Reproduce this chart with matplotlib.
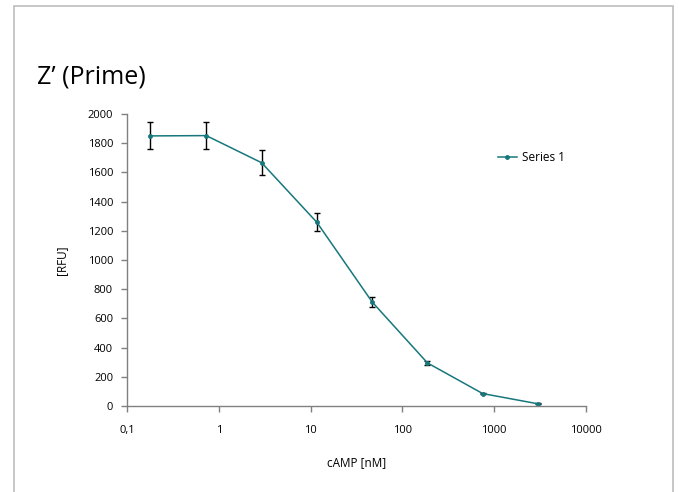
import matplotlib
matplotlib.use("Agg")
import matplotlib.pyplot as plt
from matplotlib.patches import Rectangle

# cAMP standard curve (Z' prime)
conc = [0.18, 0.73, 2.93, 11.7, 46.9, 187.5, 750, 3000]
rfu = [1850, 1852, 1666, 1258, 712, 295, 85, 15]
rfu_err = [93, 93, 85, 62, 36, 14, 5, 3]
x_ticks = [0.1, 1, 10, 100, 1000, 10000]
x_tick_labels = ["0,1", "1", "10", "100", "1000", "10000"]
y_ticks = list(range(0, 2001, 200))

LINE_COLOR = "#17777c"
AXIS_COLOR = "#808080"

plt.rcParams["font.family"] = ["Open Sans", "DejaVu Sans"]

fig = plt.figure(figsize=(6.79, 4.92), dpi=100)
fig.add_artist(Rectangle((14 / 679, -0.1), (673 - 14) / 679, 1.1 - 6 / 492,
                         transform=fig.transFigure, fill=False,
                         edgecolor="#bdbdbd", linewidth=1.2))

ax = fig.add_axes([127 / 679, 1 - 406 / 492, (586 - 127) / 679, (406 - 114) / 492])
ax.errorbar(conc, rfu, yerr=rfu_err, fmt="none", ecolor="black",
            elinewidth=1.0, capsize=2.5, capthick=1.0)
ax.plot(conc, rfu, color=LINE_COLOR, linewidth=1.1, marker="o",
        markersize=2.5, label="Series 1")

ax.set_xscale("log")
ax.set_xlim(0.1, 10000)
ax.set_ylim(0, 2000)
ax.set_xticks(x_ticks)
ax.set_xticklabels(x_tick_labels)
ax.minorticks_off()
ax.set_yticks(y_ticks)

for side in ("top", "right"):
    ax.spines[side].set_visible(False)
for side in ("left", "bottom"):
    ax.spines[side].set_color(AXIS_COLOR)
    ax.spines[side].set_linewidth(1.0)
ax.tick_params(axis="both", direction="out", length=4, width=1.0,
               color=AXIS_COLOR, labelsize=8, pad=6)
ax.tick_params(axis="x", pad=10)

ax.set_xlabel("cAMP [nM]", fontsize=8.5, labelpad=14)
ax.set_ylabel("[RFU]", fontsize=8.5, labelpad=14)

ax.legend(loc="upper left", bbox_to_anchor=(0.785, 0.91), frameon=False,
          fontsize=8.5, handlelength=1.6, handletextpad=0.4)

fig.text(37 / 679, 1 - 77 / 492, "Z\u2019 (Prime)", fontsize=18,
         va="center", ha="left")

fig.savefig("out.png", dpi=100)
